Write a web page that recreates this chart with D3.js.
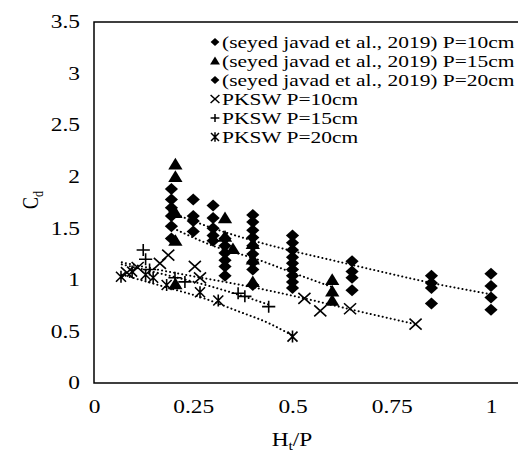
<!DOCTYPE html>
<html>
<head>
<meta charset="utf-8">
<script src="https://cdn.jsdelivr.net/npm/d3@7"></script>
<style>
  body { margin: 0; background: #fff; }
  svg { display: block; font-family: "Liberation Serif", "Times New Roman", serif; }
</style>
</head>
<body>
<svg id="chart"></svg>
<script>
var width = 518, height = 457;
var margin = {top: 22, right: 0, bottom: 74, left: 94};
// the reference looks stretched sideways, so text gets a wider x scale
var stretch = 1.3;

// seyed javad et al. 2019, [H/P, Cd]
var seyed10 = [
  [0.4, 1.63], [0.4, 1.56], [0.4, 1.48], [0.4, 1.41], [0.4, 1.33], [0.4, 1.25], [0.4, 1.17], [0.4, 1.10], [0.4, 0.95],
  [0.5, 1.43], [0.5, 1.36], [0.5, 1.29], [0.5, 1.22], [0.5, 1.16], [0.5, 1.10], [0.5, 1.04], [0.5, 0.98], [0.5, 0.92],
  [0.65, 1.18], [0.65, 1.08], [0.65, 1.02], [0.65, 0.90],
  [0.85, 1.04], [0.85, 0.97], [0.85, 0.92], [0.85, 0.77],
  [1.0, 1.06], [1.0, 0.94], [1.0, 0.83], [1.0, 0.71]
];
var seyed15 = [
  [0.205, 2.12], [0.205, 2.0], [0.205, 1.65], [0.205, 1.38], [0.205, 0.96],
  [0.33, 1.6], [0.33, 1.42], [0.35, 1.3],
  [0.4, 1.35], [0.4, 1.2], [0.4, 0.98],
  [0.6, 1.0], [0.6, 0.89], [0.6, 0.8]
];
var seyed20 = [
  [0.195, 1.88], [0.195, 1.78], [0.195, 1.70], [0.195, 1.62], [0.195, 1.52], [0.195, 1.40],
  [0.25, 1.78], [0.25, 1.62], [0.25, 1.57], [0.25, 1.47],
  [0.3, 1.72], [0.3, 1.60], [0.3, 1.50], [0.3, 1.43], [0.3, 1.38],
  [0.33, 1.40], [0.33, 1.33], [0.33, 1.26], [0.33, 1.19], [0.33, 1.13], [0.33, 1.04]
];
// PKSW
var pksw10 = [[0.083, 1.07], [0.11, 1.12], [0.166, 1.16], [0.187, 1.24], [0.254, 1.13], [0.267, 1.02],
  [0.53, 0.82], [0.57, 0.70], [0.645, 0.72], [0.81, 0.57]];
var pksw15 = [[0.124, 1.29], [0.13, 1.2], [0.14, 1.1], [0.204, 1.02], [0.229, 0.98], [0.363, 0.87], [0.38, 0.84], [0.44, 0.74]];
var pksw20 = [[0.068, 1.03], [0.096, 1.08], [0.13, 1.05], [0.149, 1.02], [0.183, 0.95], [0.267, 0.88], [0.313, 0.8], [0.5, 0.45]];

// dotted trend lines as seen in the picture
var trendSeyedA = [[0.19, 1.66], [0.3, 1.5], [0.41, 1.37], [0.5, 1.28], [0.6, 1.19], [0.7, 1.1], [0.85, 0.97], [1.0, 0.86]];
var trendSeyedB = [[0.2, 1.5], [0.3, 1.33], [0.41, 1.2], [0.5, 1.07], [0.6, 0.93]];
var trendPksw10 = [[0.07, 1.17], [0.2, 1.07], [0.3, 1.0], [0.41, 0.92], [0.53, 0.82], [0.65, 0.71], [0.81, 0.57]];
var trendPksw15 = [[0.07, 1.15], [0.2, 1.03], [0.3, 0.93], [0.44, 0.76]];
var trendPksw20 = [[0.07, 1.05], [0.18, 0.93], [0.27, 0.83], [0.36, 0.7], [0.44, 0.58], [0.5, 0.46]];

var xTicks = [0, 0.25, 0.5, 0.75, 1];
var yTicks = [0, 0.5, 1, 1.5, 2, 2.5, 3, 3.5];
var legendLabels = ["(seyed javad et al., 2019) P=10cm", "(seyed javad et al., 2019) P=15cm",
  "(seyed javad et al., 2019) P=20cm", "PKSW P=10cm", "PKSW P=15cm", "PKSW P=20cm"];
var legendShapes = ["diamond", "triangle", "diamond", "x", "plus", "star"];

var svg = d3.select("#chart").attr("width", width).attr("height", height);

var x = d3.scaleLinear().domain([0, 1.068]).range([margin.left, width - margin.right]);
var y = d3.scaleLinear().domain([0, 3.5]).range([height - margin.bottom, margin.top]);

// frame
svg.append("path")
  .attr("d", `M${width},${y(3.5)}H${x(0)}V${y(0)}H${width}`)
  .attr("fill", "none").attr("stroke", "#000").attr("stroke-width", 1.5);

// axes (labels only)
var xAxis = svg.append("g")
  .attr("transform", `translate(0,${y(0)})`)
  .call(d3.axisBottom(x).tickValues(xTicks).tickSize(0).tickPadding(17).tickFormat(d3.format("")));
xAxis.select(".domain").remove();
xAxis.selectAll("text")
  .attr("font-size", 18).attr("font-family", "Liberation Serif").attr("fill", "#000")
  .attr("transform", `scale(${stretch},1)`);

var yAxis = svg.append("g")
  .attr("transform", `translate(${x(0)},0)`)
  .call(d3.axisLeft(y).tickValues(yTicks).tickSize(0).tickFormat(d3.format("")));
yAxis.select(".domain").remove();
yAxis.selectAll("text")
  .attr("font-size", 18).attr("font-family", "Liberation Serif").attr("fill", "#000")
  .attr("x", -14 / stretch)
  .attr("transform", `scale(${stretch},1)`);

// axis titles
var xt = svg.append("text")
  .attr("transform", `translate(292,446) scale(${stretch},1)`)
  .attr("text-anchor", "middle").attr("font-size", 18);
xt.append("tspan").text("H");
xt.append("tspan").attr("font-size", 12).attr("dy", 4).text("t");
xt.append("tspan").attr("dy", -4).text("/P");

var yt = svg.append("text")
  .attr("transform", `translate(38,200) scale(${stretch},1) rotate(-90)`)
  .attr("text-anchor", "middle").attr("font-size", 18);
yt.append("tspan").text("C");
yt.append("tspan").attr("font-size", 12).attr("dy", 4).text("d");

// trend lines
var line = d3.line().curve(d3.curveMonotoneX).x(d => x(d[0])).y(d => y(d[1]));
svg.append("g")
  .selectAll("path")
  .data([trendSeyedA, trendSeyedB, trendPksw10, trendPksw15, trendPksw20])
  .join("path")
  .attr("d", line)
  .attr("fill", "none")
  .attr("stroke", "#000")
  .attr("stroke-width", 2)
  .attr("stroke-linecap", "round")
  .attr("stroke-dasharray", "0.1,4");

// marker shapes
function shapePath(kind, s) {
  var w = s * 1.1;
  if (kind === "diamond") return `M0,${-s}L${w},0L0,${s}L${-w},0Z`;
  if (kind === "triangle") return `M0,${-s}L${w},${s * 0.8}L${-w},${s * 0.8}Z`;
  if (kind === "x") return `M${-w},${-s}L${w},${s}M${-w},${s}L${w},${-s}`;
  if (kind === "plus") return `M${-w},0L${w},0M0,${-s}L0,${s}`;
  return `M${-s},${-s}L${s},${s}M${-s},${s}L${s},${-s}M0,${-s * 1.2}L0,${s * 1.2}`;
}
function drawSeries(data, kind, s) {
  var filled = kind === "diamond" || kind === "triangle";
  svg.append("g")
    .selectAll("path")
    .data(data)
    .join("path")
    .attr("transform", d => `translate(${x(d[0])},${y(d[1])})`)
    .attr("d", shapePath(kind, s))
    .attr("fill", filled ? "#000" : "none")
    .attr("stroke", "#000")
    .attr("stroke-width", filled ? 0 : 1.6);
}
drawSeries(seyed10, "diamond", 6);
drawSeries(seyed20, "diamond", 6);
drawSeries(seyed15, "triangle", 6.5);
drawSeries(pksw10, "x", 5.5);
drawSeries(pksw15, "plus", 6);
drawSeries(pksw20, "star", 5);

// legend
var legend = svg.append("g").selectAll("g")
  .data(legendLabels)
  .join("g")
  .attr("transform", (d, i) => `translate(215,${42 + i * 19})`);
legend.append("path")
  .attr("d", (d, i) => shapePath(legendShapes[i], legendShapes[i] === "triangle" ? 4.5 : 4))
  .attr("fill", (d, i) => i < 3 ? "#000" : "none")
  .attr("stroke", "#000")
  .attr("stroke-width", (d, i) => i < 3 ? 0 : 1.5);
legend.append("text")
  .attr("transform", `translate(7,0) scale(${stretch},1)`)
  .attr("dy", "0.35em")
  .attr("font-size", 16.5)
  .text(d => d);
</script>
</body>
</html>
